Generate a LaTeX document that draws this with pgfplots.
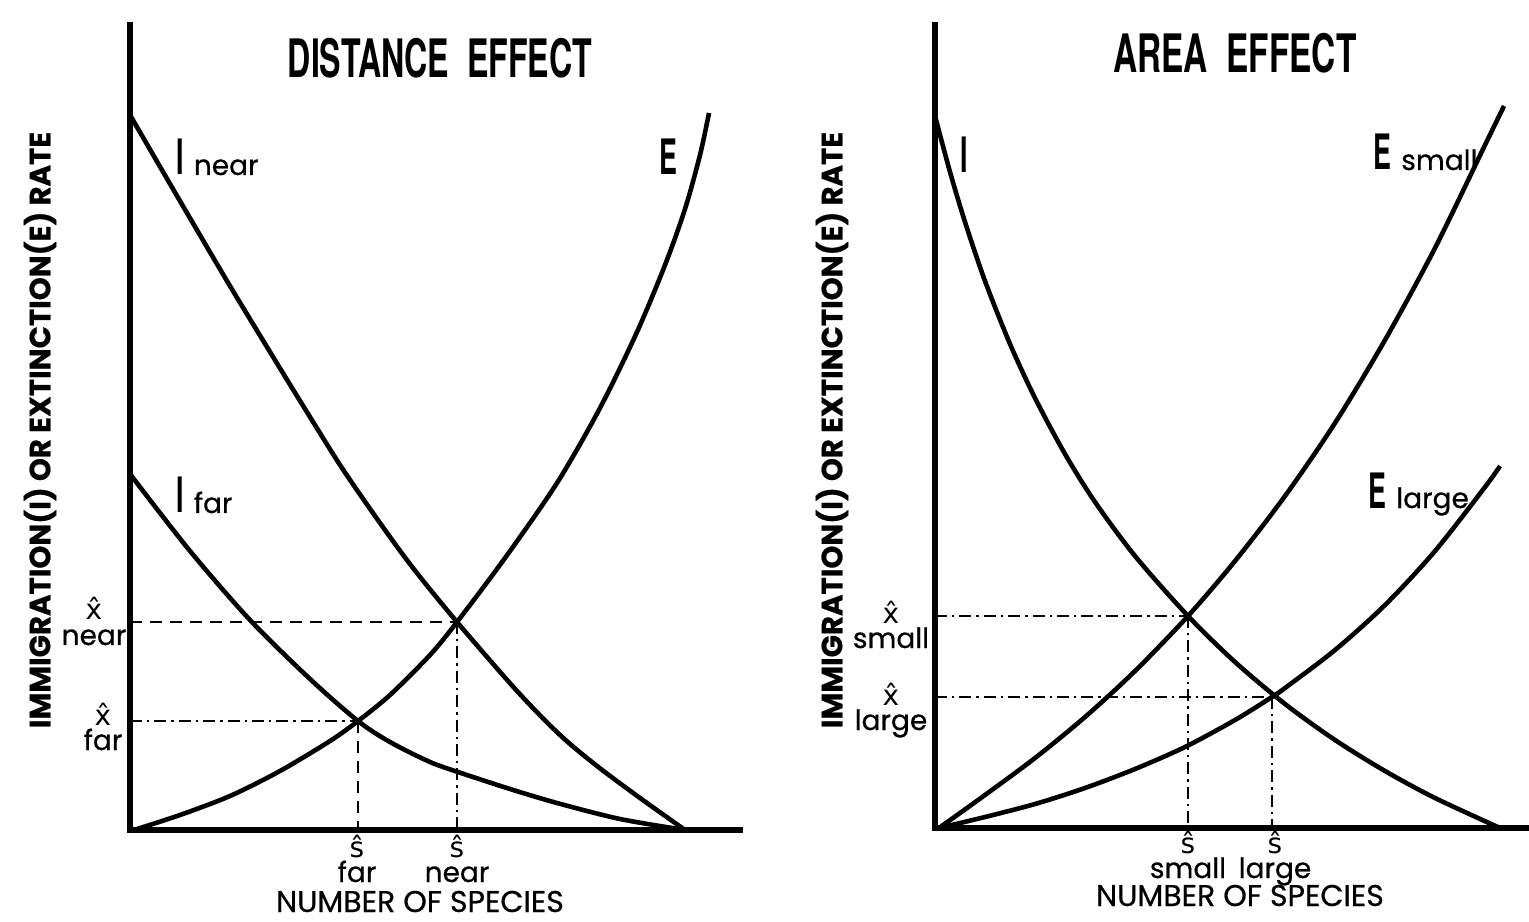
\documentclass[border=0pt]{standalone}
\usepackage{pgfplots}
\pgfplotsset{compat=1.18}
\usepackage{graphicx}
\usepackage{fontspec}
\setmainfont{Poppins}[FakeBold=0.6]
\newfontfamily\heros{TeX Gyre Heros}
\newfontfamily\dejavu{DejaVu Sans}
\newcommand{\tfont}{\heros\bfseries\fontsize{26.5}{26.5}\selectfont}
\newcommand{\bigletter}[1]{{\heros\bfseries\fontsize{24.4}{24.4}\selectfont\scalebox{0.55}[1]{#1}}}
\newcommand{\hx}{{\dejavu\^{x}}}
\newcommand{\hs}{{\dejavu\^{s}}}
\tikzset{smalllab/.style={font=\fontsize{14}{12.5}\selectfont, anchor=base, align=center, inner sep=0pt}}
\begin{document}
\begin{tikzpicture}[x=1pt,y=1pt]
\path[use as bounding box] (0,0) rectangle (764.5,460.5);
\pgfplotsset{
  rates/.style={scale only axis, clip=false, axis lines=left,
    axis line style={-, line width=3.2pt, line cap=rect},
    xtick=\empty, ytick=\empty, anchor=south west, xmin=0, ymin=0,
    enlargelimits=false},
  curve/.style={black, line width=2.3pt, smooth, no marks},
  dsh/.style={black, line width=0.8pt, no marks, dash pattern=on 6pt off 4pt},
  dsd/.style={black, line width=0.8pt, no marks, dash pattern=on 6pt off 2.5pt on 1.2pt off 2.5pt},
}
% ---------------- left panel ----------------
\begin{axis}[rates, at={(65pt,45.5pt)}, width=305pt, height=402.5pt, xmax=610, ymax=805]
% I near
\addplot[curve] coordinates {(0,715)(50,629)(100,544)(148,465)(180,413)(212,362)(250,307)(283,262)(327,208)(387,139)(430,95)(467,64)(510,32)(555,0)};
% I far
\addplot[curve] coordinates {(0,356)(60,279)(120,210)(180,151)(228,109)(260,88)(300,68)(331,57)(380,41)(427,27)(490,11)(555,0)};
% E
\addplot[curve] coordinates {(4,0)(50,15)(100,34)(150,59)(200,89)(228,109)(260,135)(300,175)(327,208)(375,272)(427,347)(470,422)(507,498)(535,565)(555,621)(570,675)(579,717)};
\addplot[dsh] coordinates {(0,208)(327,208)};
\addplot[dsd] coordinates {(327,208)(327,0)};
\addplot[dsd] coordinates {(0,109)(228,109)};
\addplot[dsh] coordinates {(228,109)(228,0)};
\node[anchor=center] at (axis cs:310,772) {\tfont\scalebox{0.606}[1]{DISTANCE\ \ EFFECT}};
\node[anchor=base west, inner sep=0pt] at (axis cs:46,655) {\bigletter{I}\hspace{5pt}{\fontsize{14}{14}\selectfont near}};
\node[anchor=base west, inner sep=0pt] at (axis cs:46,317) {\bigletter{I}\hspace{5pt}{\fontsize{14}{14}\selectfont far}};
\node[anchor=base, inner sep=0pt] at (axis cs:538,655) {\bigletter{E}};
\node[smalllab] at (axis cs:-36,185) {\hx\\near};
\node[smalllab] at (axis cs:-27,80) {\hx\\far};
\node[smalllab] at (axis cs:227,-52) {\hs\\far};
\node[smalllab] at (axis cs:327,-52) {\hs\\near};
\node[anchor=base, inner sep=0pt, font=\fontsize{15}{15}\selectfont] at (axis cs:290,-82) {NUMBER OF SPECIES};
\node[rotate=90, anchor=center, inner sep=0pt, font=\bfseries\fontsize{14.6}{14.6}\selectfont] at (axis cs:-90,400) {IMMIGRATION(I) OR EXTINCTION(E) RATE};
\end{axis}
% ---------------- right panel ----------------
\begin{axis}[rates, at={(467.5pt,46.5pt)}, width=297pt, height=401.5pt, xmax=594, ymax=803]
% I
\addplot[curve] coordinates {(0,712)(15,656)(30,606)(50,547)(75,484)(100,430)(130,374)(160,326)(200,272)(253,212)(300,166)(350,124)(400,88)(450,57)(500,30)(565,0)};
% E small
\addplot[curve] coordinates {(4,0)(50,33)(100,70)(150,111)(200,157)(253,212)(300,267)(350,332)(400,405)(450,488)(500,580)(550,683)(569,722)};
% E large
\addplot[curve] coordinates {(4,0)(50,11)(100,24)(150,40)(200,59)(250,81)(300,108)(337,131)(350,140)(400,178)(450,223)(500,277)(550,341)(565,362)};
\addplot[dsd] coordinates {(0,212)(253,212)};
\addplot[dsd] coordinates {(253,212)(253,0)};
\addplot[dsd] coordinates {(0,131)(337,131)};
\addplot[dsd] coordinates {(337,131)(337,0)};
\node[anchor=center] at (axis cs:300,775) {\tfont\scalebox{0.63}[1]{AREA\ \ EFFECT}};
\node[anchor=base west, inner sep=0pt] at (axis cs:25,655) {\bigletter{I}};
\node[anchor=base west, inner sep=0pt] at (axis cs:438,658) {\bigletter{E}\hspace{5pt}{\fontsize{14}{14}\selectfont small}};
\node[anchor=base west, inner sep=0pt] at (axis cs:433,320) {\bigletter{E}\hspace{5pt}{\fontsize{14}{14}\selectfont large}};
\node[smalllab] at (axis cs:-44,180) {\hx\\small};
\node[smalllab] at (axis cs:-44,98) {\hx\\large};
\node[smalllab] at (axis cs:253,-50) {\hs\\small};
\node[smalllab] at (axis cs:340,-50) {\hs\\large};
\node[anchor=base, inner sep=0pt, font=\fontsize{15}{15}\selectfont] at (axis cs:305,-78) {NUMBER OF SPECIES};
\node[rotate=90, anchor=center, inner sep=0pt, font=\bfseries\fontsize{14.6}{14.6}\selectfont] at (axis cs:-103,398) {IMMIGRATION(I) OR EXTINCTION(E) RATE};
\end{axis}
\end{tikzpicture}
\end{document}
